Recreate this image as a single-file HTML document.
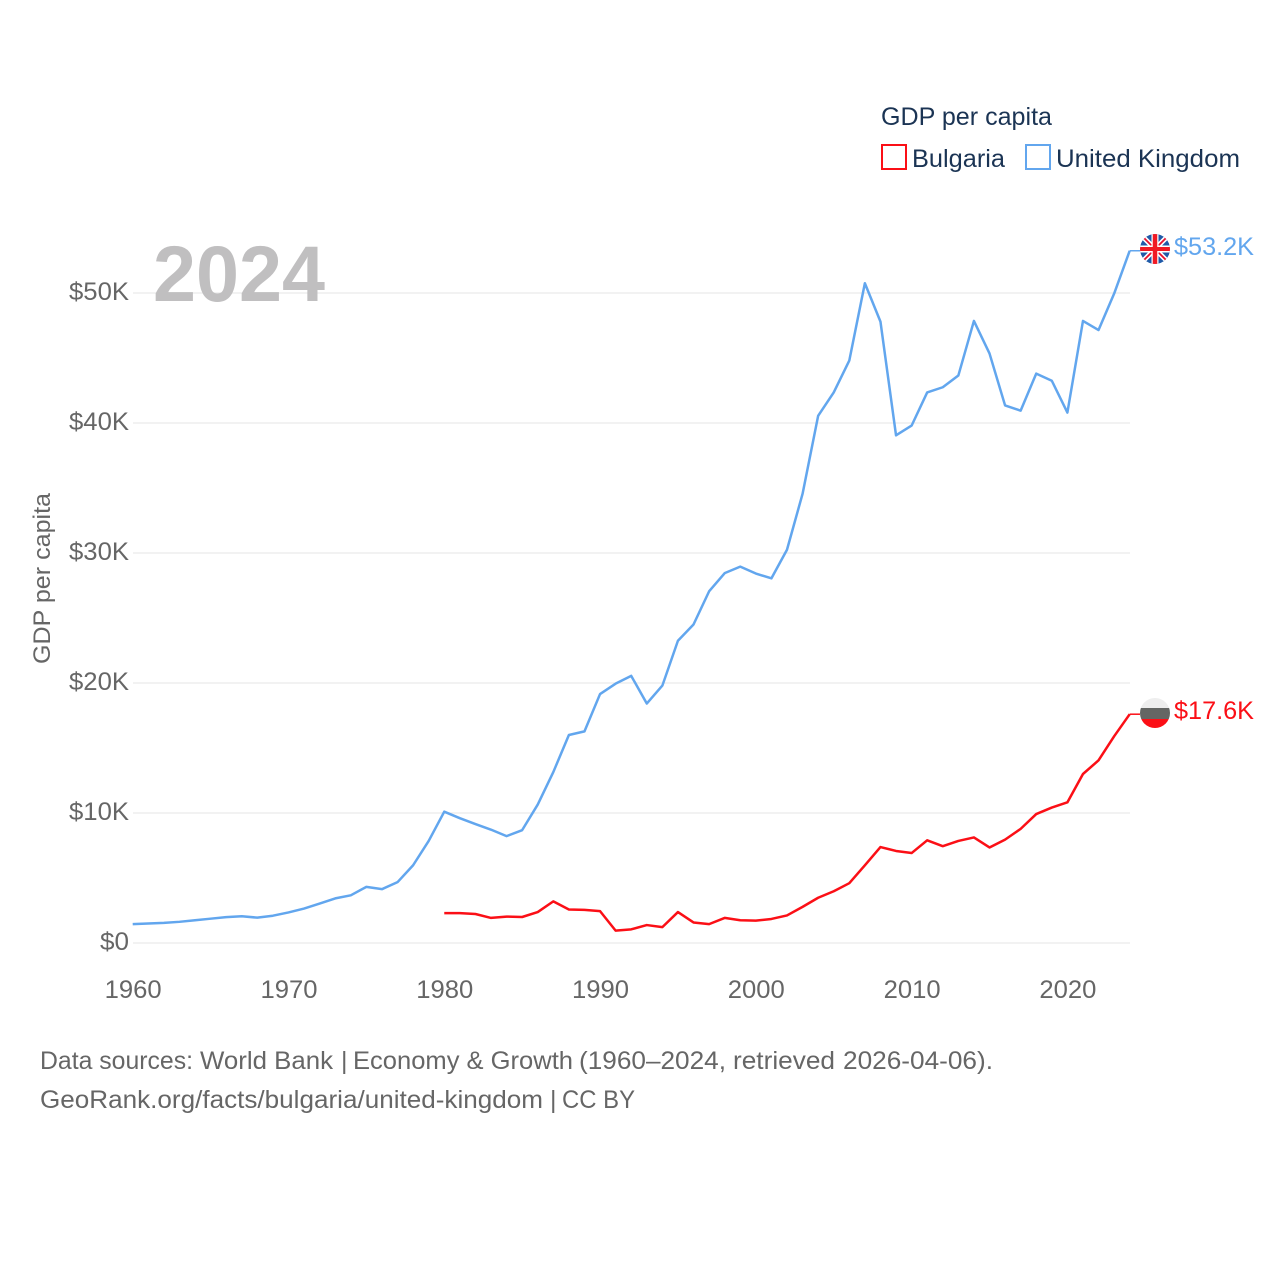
<!DOCTYPE html>
<html lang="en">
<head>
<meta charset="utf-8">
<title>GDP per capita: Bulgaria and United Kingdom</title>
<style>
html,body{margin:0;padding:0;background:#fff;}
svg{display:block;font-family:"Liberation Sans",sans-serif;}
</style>
</head>
<body>
<svg id="chart" xmlns="http://www.w3.org/2000/svg" width="1280" height="1280" viewBox="0 0 1280 1280">
  <defs>
    <clipPath id="uk-clip"><circle cx="1155" cy="249" r="15"/></clipPath>
    <clipPath id="bg-clip"><circle cx="1155" cy="713" r="15"/></clipPath>
  </defs>
  <g id="grid"></g>
  <text x="153" y="301" font-size="79" font-weight="700" fill="#c0bfc0" textLength="172" lengthAdjust="spacingAndGlyphs">2024</text>
  <g id="y-ticks"></g>
  <g id="x-ticks"></g>
  <text transform="translate(50,664) rotate(-90)" font-size="24" fill="#666" textLength="171" lengthAdjust="spacingAndGlyphs">GDP per capita</text>
  <g id="series"></g>

  <g clip-path="url(#uk-clip)">
    <rect x="1140" y="234" width="30" height="30" fill="#1f5aa8"/>
    <path d="M1140 234L1170 264M1170 234L1140 264" stroke="#fff" stroke-width="5"/>
    <path d="M1140 234L1170 264M1170 234L1140 264" stroke="#e8112d" stroke-width="1.8"/>
    <path d="M1155 234V264M1140 249H1170" stroke="#fff" stroke-width="7"/>
    <path d="M1155 234V264" stroke="#f01a24" stroke-width="4.5"/>
    <path d="M1140 249H1170" stroke="#f01a24" stroke-width="4"/>
  </g>
  <g clip-path="url(#bg-clip)">
    <rect x="1140" y="698" width="30" height="10" fill="#eeeeee"/>
    <rect x="1140" y="708" width="30" height="11" fill="#646664"/>
    <rect x="1140" y="719" width="30" height="10" fill="#fb0f16"/>
  </g>
  <text id="uk-value" x="1174" y="255" font-size="25" fill="#62a6ee" textLength="80" lengthAdjust="spacingAndGlyphs"></text>
  <text id="bg-value" x="1174" y="719" font-size="25" fill="#fb0f16" textLength="80" lengthAdjust="spacingAndGlyphs"></text>

  <g>
    <text x="881" y="125" font-size="25" fill="#1b3454" textLength="171" lengthAdjust="spacingAndGlyphs">GDP per capita</text>
    <g>
      <rect x="882" y="145" width="24" height="24" fill="#fff" stroke="#fb0f16" stroke-width="2"/>
      <text x="912" y="167" font-size="25" fill="#1b3454" textLength="93" lengthAdjust="spacingAndGlyphs">Bulgaria</text>
    </g>
    <g>
      <rect x="1026" y="145" width="24" height="24" fill="#fff" stroke="#62a6ee" stroke-width="2"/>
      <text x="1056" y="167" font-size="25" fill="#1b3454" textLength="184" lengthAdjust="spacingAndGlyphs">United Kingdom</text>
    </g>
  </g>

  <g font-size="25" fill="#666" lengthAdjust="spacingAndGlyphs">
    <text x="40" y="1069" textLength="153" lengthAdjust="spacingAndGlyphs">Data sources:</text>
    <text x="200" y="1069" textLength="133" lengthAdjust="spacingAndGlyphs">World Bank</text>
    <text x="341" y="1069">|</text>
    <text x="353" y="1069" textLength="220" lengthAdjust="spacingAndGlyphs">Economy &amp; Growth</text>
    <text x="579" y="1069" textLength="147" lengthAdjust="spacingAndGlyphs">(1960–2024,</text>
    <text x="733" y="1069" textLength="102" lengthAdjust="spacingAndGlyphs">retrieved</text>
    <text x="843" y="1069" textLength="150" lengthAdjust="spacingAndGlyphs">2026-04-06).</text>
  </g>
  <g font-size="25" fill="#666">
    <text x="40" y="1108" textLength="503" lengthAdjust="spacingAndGlyphs">GeoRank.org/facts/bulgaria/united-kingdom</text>
    <text x="550" y="1108">|</text>
    <text x="562" y="1108" textLength="73" lengthAdjust="spacingAndGlyphs">CC BY</text>
  </g>
</svg>
<script>
const ukYears = [1960,1961,1962,1963,1964,1965,1966,1967,1968,1969,1970,1971,1972,1973,1974,1975,1976,1977,1978,1979,1980,1981,1982,1983,1984,1985,1986,1987,1988,1989,1990,1991,1992,1993,1994,1995,1996,1997,1998,1999,2000,2001,2002,2003,2004,2005,2006,2007,2008,2009,2010,2011,2012,2013,2014,2015,2016,2017,2018,2019,2020,2021,2022,2023,2024];
const ukValues = [1.45,1.50,1.55,1.63,1.75,1.87,1.99,2.06,1.95,2.10,2.35,2.65,3.03,3.43,3.67,4.32,4.14,4.68,5.98,7.85,10.10,9.60,9.15,8.72,8.22,8.68,10.65,13.15,16.00,16.28,19.15,19.95,20.55,18.42,19.80,23.25,24.50,27.05,28.45,28.95,28.42,28.05,30.25,34.55,40.55,42.35,44.80,50.75,47.80,39.05,39.80,42.35,42.75,43.65,47.85,45.35,41.35,40.95,43.80,43.25,40.80,47.85,47.15,49.95,53.25];
const bgYears = [1980,1981,1982,1983,1984,1985,1986,1987,1988,1989,1990,1991,1992,1993,1994,1995,1996,1997,1998,1999,2000,2001,2002,2003,2004,2005,2006,2007,2008,2009,2010,2011,2012,2013,2014,2015,2016,2017,2018,2019,2020,2021,2022,2023,2024];
const bgValues = [2.30,2.30,2.23,1.93,2.03,2.00,2.38,3.20,2.58,2.55,2.45,0.95,1.05,1.38,1.22,2.38,1.58,1.45,1.93,1.75,1.72,1.85,2.12,2.78,3.48,3.98,4.60,5.98,7.38,7.08,6.92,7.90,7.45,7.85,8.12,7.35,7.95,8.78,9.92,10.42,10.82,13.00,14.05,15.90,17.60];
const yTickValues = [0,10,20,30,40,50];
const yTickLabels = ["$0","$10K","$20K","$30K","$40K","$50K"];
const xTickYears = [1960,1970,1980,1990,2000,2010,2020];
const endLabels = ["$53.2K","$17.6K"];

const NS = "http://www.w3.org/2000/svg";
function xScale(year){ return 133 - 0.3 + (year - 1960) * (1130 - 133) / 64; }
function yScale(val){ return 943 - val * 13; }

const grid = document.getElementById('grid');
const yTicks = document.getElementById('y-ticks');
yTickValues.forEach(function(v,i){
  const line = document.createElementNS(NS,'line');
  
  
  line.setAttribute('x1', 133);
  line.setAttribute('x2', 1130);
  line.setAttribute('y1', yScale(v));
  line.setAttribute('y2', yScale(v));
  line.setAttribute('stroke', '#e9e9e9');
  line.setAttribute('stroke-width', '1.2');
  grid.appendChild(line);

  const t = document.createElementNS(NS,'text');
  
  
  t.setAttribute('x', 129);
  t.setAttribute('y', yScale(v) + 7);
  t.setAttribute('text-anchor', 'end');
  t.setAttribute('font-size', '25');
  t.setAttribute('fill', '#666');
  t.setAttribute('textLength', yTickLabels[i].length === 2 ? 29 : 60);
  t.setAttribute('lengthAdjust', 'spacingAndGlyphs');
  t.textContent = yTickLabels[i];
  yTicks.appendChild(t);
});

const xTicks = document.getElementById('x-ticks');
xTickYears.forEach(function(y){
  const t = document.createElementNS(NS,'text');
  
  
  t.setAttribute('x', xScale(y) - 28);
  t.setAttribute('y', 998);
  t.setAttribute('font-size', '25');
  t.setAttribute('fill', '#666');
  t.setAttribute('textLength', 57);
  t.setAttribute('lengthAdjust', 'spacingAndGlyphs');
  t.textContent = y;
  xTicks.appendChild(t);
});

function pathFrom(years, values){
  return years.map(function(y,i){
    return (i ? 'L' : 'M') + xScale(y).toFixed(2) + ' ' + yScale(values[i]).toFixed(2);
  }).join(' ');
}

const series = document.getElementById('series');

const ukLine = document.createElementNS(NS,'path');


ukLine.setAttribute('d', pathFrom(ukYears, ukValues));
ukLine.setAttribute('fill', 'none');
ukLine.setAttribute('stroke', '#62a6ee');
ukLine.setAttribute('stroke-width', '2.5');
ukLine.setAttribute('stroke-linejoin', 'round');
series.appendChild(ukLine);

const bgLine = document.createElementNS(NS,'path');


bgLine.setAttribute('d', pathFrom(bgYears, bgValues));
bgLine.setAttribute('fill', 'none');
bgLine.setAttribute('stroke', '#fb0f16');
bgLine.setAttribute('stroke-width', '2.5');
bgLine.setAttribute('stroke-linejoin', 'round');
series.appendChild(bgLine);

const ukTail = document.createElementNS(NS,'line');


ukTail.setAttribute('x1', xScale(2024));
ukTail.setAttribute('x2', 1140);
ukTail.setAttribute('y1', yScale(ukValues[ukValues.length - 1]));
ukTail.setAttribute('y2', yScale(ukValues[ukValues.length - 1]));
ukTail.setAttribute('stroke', '#62a6ee');
ukTail.setAttribute('stroke-width', '1.5');
series.appendChild(ukTail);

const bgTail = document.createElementNS(NS,'line');


bgTail.setAttribute('x1', xScale(2024));
bgTail.setAttribute('x2', 1140);
bgTail.setAttribute('y1', yScale(bgValues[bgValues.length - 1]));
bgTail.setAttribute('y2', yScale(bgValues[bgValues.length - 1]));
bgTail.setAttribute('stroke', '#fb0f16');
bgTail.setAttribute('stroke-width', '1.5');
series.appendChild(bgTail);

document.getElementById('uk-value').textContent = endLabels[0];
document.getElementById('bg-value').textContent = endLabels[1];
</script>
</body>
</html>
